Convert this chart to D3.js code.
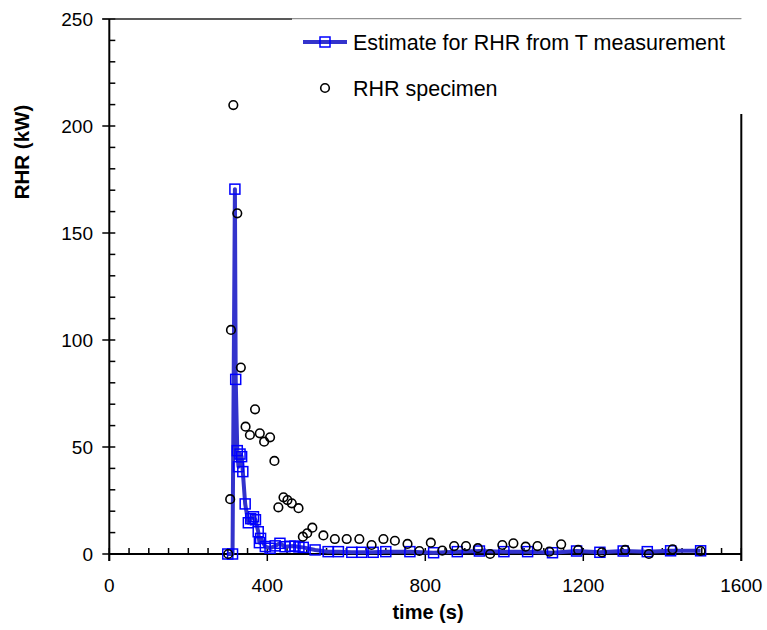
<!DOCTYPE html>
<html>
<head>
<meta charset="utf-8">
<script src="https://cdn.jsdelivr.net/npm/d3@7"></script>
<style>
    body { margin: 0; background: #fff; }
    text { font-family: Arial, "Liberation Sans", sans-serif; }
</style>
</head>
<body>
<div id="chart"></div>
<script>

// estimate for RHR from T measurement (time s, RHR kW)
let estTime = [300, 312, 318, 320, 324, 327, 331, 335, 338, 344, 352, 358, 365, 370, 377, 380, 383, 395,
    407, 420, 432, 445, 458, 470, 480, 491, 521, 554, 580, 614, 639, 668, 700, 761, 821, 881, 937,
    999, 1059, 1122, 1183, 1242, 1301, 1362, 1421, 1497];
let estRHR = [0, 0, 170.5, 81.6, 48.3, 40.8, 46.7, 45.5, 38.5, 23.4, 14.6, 16.5, 17.4, 16, 10.4, 5.3, 7.3, 3.5,
    2.7, 3.8, 5.0, 3.4, 3.6, 3.7, 3.3, 3.1, 1.9, 1.1, 1.1, 0.8, 0.8, 0.8, 1.1, 1.1, 0.6, 1.1, 1.4,
    1.1, 1.1, 0.6, 1.4, 0.8, 1.4, 1.1, 1.5, 1.5];

// RHR specimen
let specTime = [301, 306, 308, 314, 324, 333, 345, 356, 369, 381, 392, 407, 418, 428, 441, 451, 462, 479,
    490, 501, 514, 542, 571, 601, 633, 664, 694, 723, 755, 785, 814, 843, 873, 903, 933, 964, 995,
    1023, 1054, 1084, 1114, 1144, 1187, 1247, 1306, 1366, 1426, 1497];
let specRHR = [0, 25.6, 104.7, 209.8, 159.2, 87.1, 59.5, 55.6, 67.6, 56.4, 52.5, 54.5, 43.5, 21.8, 26.5, 25.2, 23.7, 21.4,
    8.1, 9.7, 12.3, 8.7, 7.0, 7.0, 7.0, 4.2, 7.0, 6.2, 4.7, 1.4, 5.3, 1.6, 3.7, 3.7, 2.7, 0, 4.2,
    5.0, 3.4, 3.7, 1.1, 4.5, 1.9, 0.8, 1.9, 0, 2.2, 1.4];

let xTicks = [0, 400, 800, 1200, 1600];
let yTicks = [0, 50, 100, 150, 200, 250];
let legendLabels = ["Estimate for RHR from T measurement", "RHR specimen"];

const W = 767, H = 630;
const plotL = 109.3, plotR = 741.3, plotT = 19, plotB = 554;

let svg = d3.select("#chart").append("svg")
    .attr("width", W)
    .attr("height", H);

let x = d3.scaleLinear().domain([0, 1600]).range([plotL, plotR]);
let y = d3.scaleLinear().domain([0, 250]).range([plotB, plotT]);

// minor ticks (inside)
let xMinor = d3.range(0, 1601, 50).filter(d => !xTicks.includes(d));
let yMinor = d3.range(0, 251, 10).filter(d => !yTicks.includes(d));

svg.append("g").selectAll("line").data(xMinor).enter().append("line")
    .attr("x1", d => x(d)).attr("x2", d => x(d))
    .attr("y1", plotB).attr("y2", plotB - 6)
    .attr("stroke", "#000").attr("stroke-width", 1.5);

svg.append("g").selectAll("line").data(yMinor).enter().append("line")
    .attr("x1", plotL).attr("x2", plotL + 6)
    .attr("y1", d => y(d)).attr("y2", d => y(d))
    .attr("stroke", "#000").attr("stroke-width", 1.5);

// major ticks (crossing)
svg.append("g").selectAll("line").data(xTicks).enter().append("line")
    .attr("x1", d => x(d)).attr("x2", d => x(d))
    .attr("y1", plotB - 6).attr("y2", plotB + 7)
    .attr("stroke", "#000").attr("stroke-width", 1.5);

svg.append("g").selectAll("line").data(yTicks).enter().append("line")
    .attr("x1", plotL - 7).attr("x2", plotL + 6)
    .attr("y1", d => y(d)).attr("y2", d => y(d))
    .attr("stroke", "#000").attr("stroke-width", 1.5);

// frame
svg.append("line").attr("x1", plotL - 7).attr("x2", plotR).attr("y1", plotT).attr("y2", plotT)
    .attr("stroke", "#222").attr("stroke-width", 1.5);
svg.append("line").attr("x1", plotL).attr("x2", plotL).attr("y1", plotT).attr("y2", plotB + 7)
    .attr("stroke", "#000").attr("stroke-width", 2);
svg.append("line").attr("x1", plotL).attr("x2", plotR).attr("y1", plotB).attr("y2", plotB)
    .attr("stroke", "#000").attr("stroke-width", 2);
svg.append("line").attr("x1", plotR).attr("x2", plotR).attr("y1", 114).attr("y2", plotB + 7)
    .attr("stroke", "#000").attr("stroke-width", 2);

// tick labels
svg.append("g").selectAll("text").data(xTicks).enter().append("text")
    .attr("x", d => x(d)).attr("y", 592)
    .attr("text-anchor", "middle")
    .attr("font-size", 19)
    .text(d => d);

svg.append("g").selectAll("text").data(yTicks).enter().append("text")
    .attr("x", 93).attr("y", d => y(d) + 7)
    .attr("text-anchor", "end")
    .attr("font-size", 19)
    .text(d => d);

// axis titles
svg.append("text")
    .attr("x", 428).attr("y", 619)
    .attr("text-anchor", "middle")
    .attr("font-size", 20).attr("font-weight", "bold")
    .text("time (s)");

svg.append("text")
    .attr("transform", "translate(29," + 152 + ") rotate(-90)")
    .attr("text-anchor", "middle")
    .attr("font-size", 20.5).attr("font-weight", "bold")
    .text("RHR (kW)");

// estimate line + squares
let estData = estTime.map((t, i) => ({t: t, v: estRHR[i]}));
let specData = specTime.map((t, i) => ({t: t, v: specRHR[i]}));

let line = d3.line().x(d => x(d.t)).y(d => y(d.v));

let plot = svg.append("g");

plot.append("path")
    .datum(estData)
    .attr("d", line)
    .attr("fill", "none")
    .attr("stroke", "#3333cc")
    .attr("stroke-width", 4)
    .attr("stroke-linejoin", "round");

plot.selectAll(".sq").data(estData).enter().append("rect")
    .attr("class", "sq")
    .attr("x", d => x(d.t) - 5).attr("y", d => y(d.v) - 5)
    .attr("width", 10).attr("height", 10)
    .attr("fill", "none")
    .attr("stroke", "#0000ff").attr("stroke-width", 1.5);

plot.selectAll(".pt").data(specData).enter().append("circle")
    .attr("class", "pt")
    .attr("cx", d => x(d.t)).attr("cy", d => y(d.v))
    .attr("r", 4.3)
    .attr("fill", "none")
    .attr("stroke", "#000").attr("stroke-width", 1.6);

// legend
let legend = svg.append("g");
legend.append("rect")
    .attr("x", 292).attr("y", plotT).attr("width", plotR - 292 + 2).attr("height", 95)
    .attr("fill", "#fff");
legend.append("line")
    .attr("x1", 292).attr("x2", plotR).attr("y1", plotT).attr("y2", plotT)
    .attr("stroke", "#ccc").attr("stroke-width", 1);

legend.append("line")
    .attr("x1", 303).attr("x2", 347).attr("y1", 42).attr("y2", 42)
    .attr("stroke", "#3333cc").attr("stroke-width", 4);
legend.append("rect")
    .attr("x", 320).attr("y", 37).attr("width", 10).attr("height", 10)
    .attr("fill", "none").attr("stroke", "#0000ff").attr("stroke-width", 1.5);
legend.append("circle")
    .attr("cx", 325).attr("cy", 88).attr("r", 4.3)
    .attr("fill", "none").attr("stroke", "#000").attr("stroke-width", 1.6);

legend.selectAll(".lt").data(legendLabels).enter().append("text")
    .attr("class", "lt")
    .attr("x", 353).attr("y", (d, i) => 50 + i * 46)
    .attr("font-size", 21.5)
    .text(d => d);

</script>
</body>
</html>
